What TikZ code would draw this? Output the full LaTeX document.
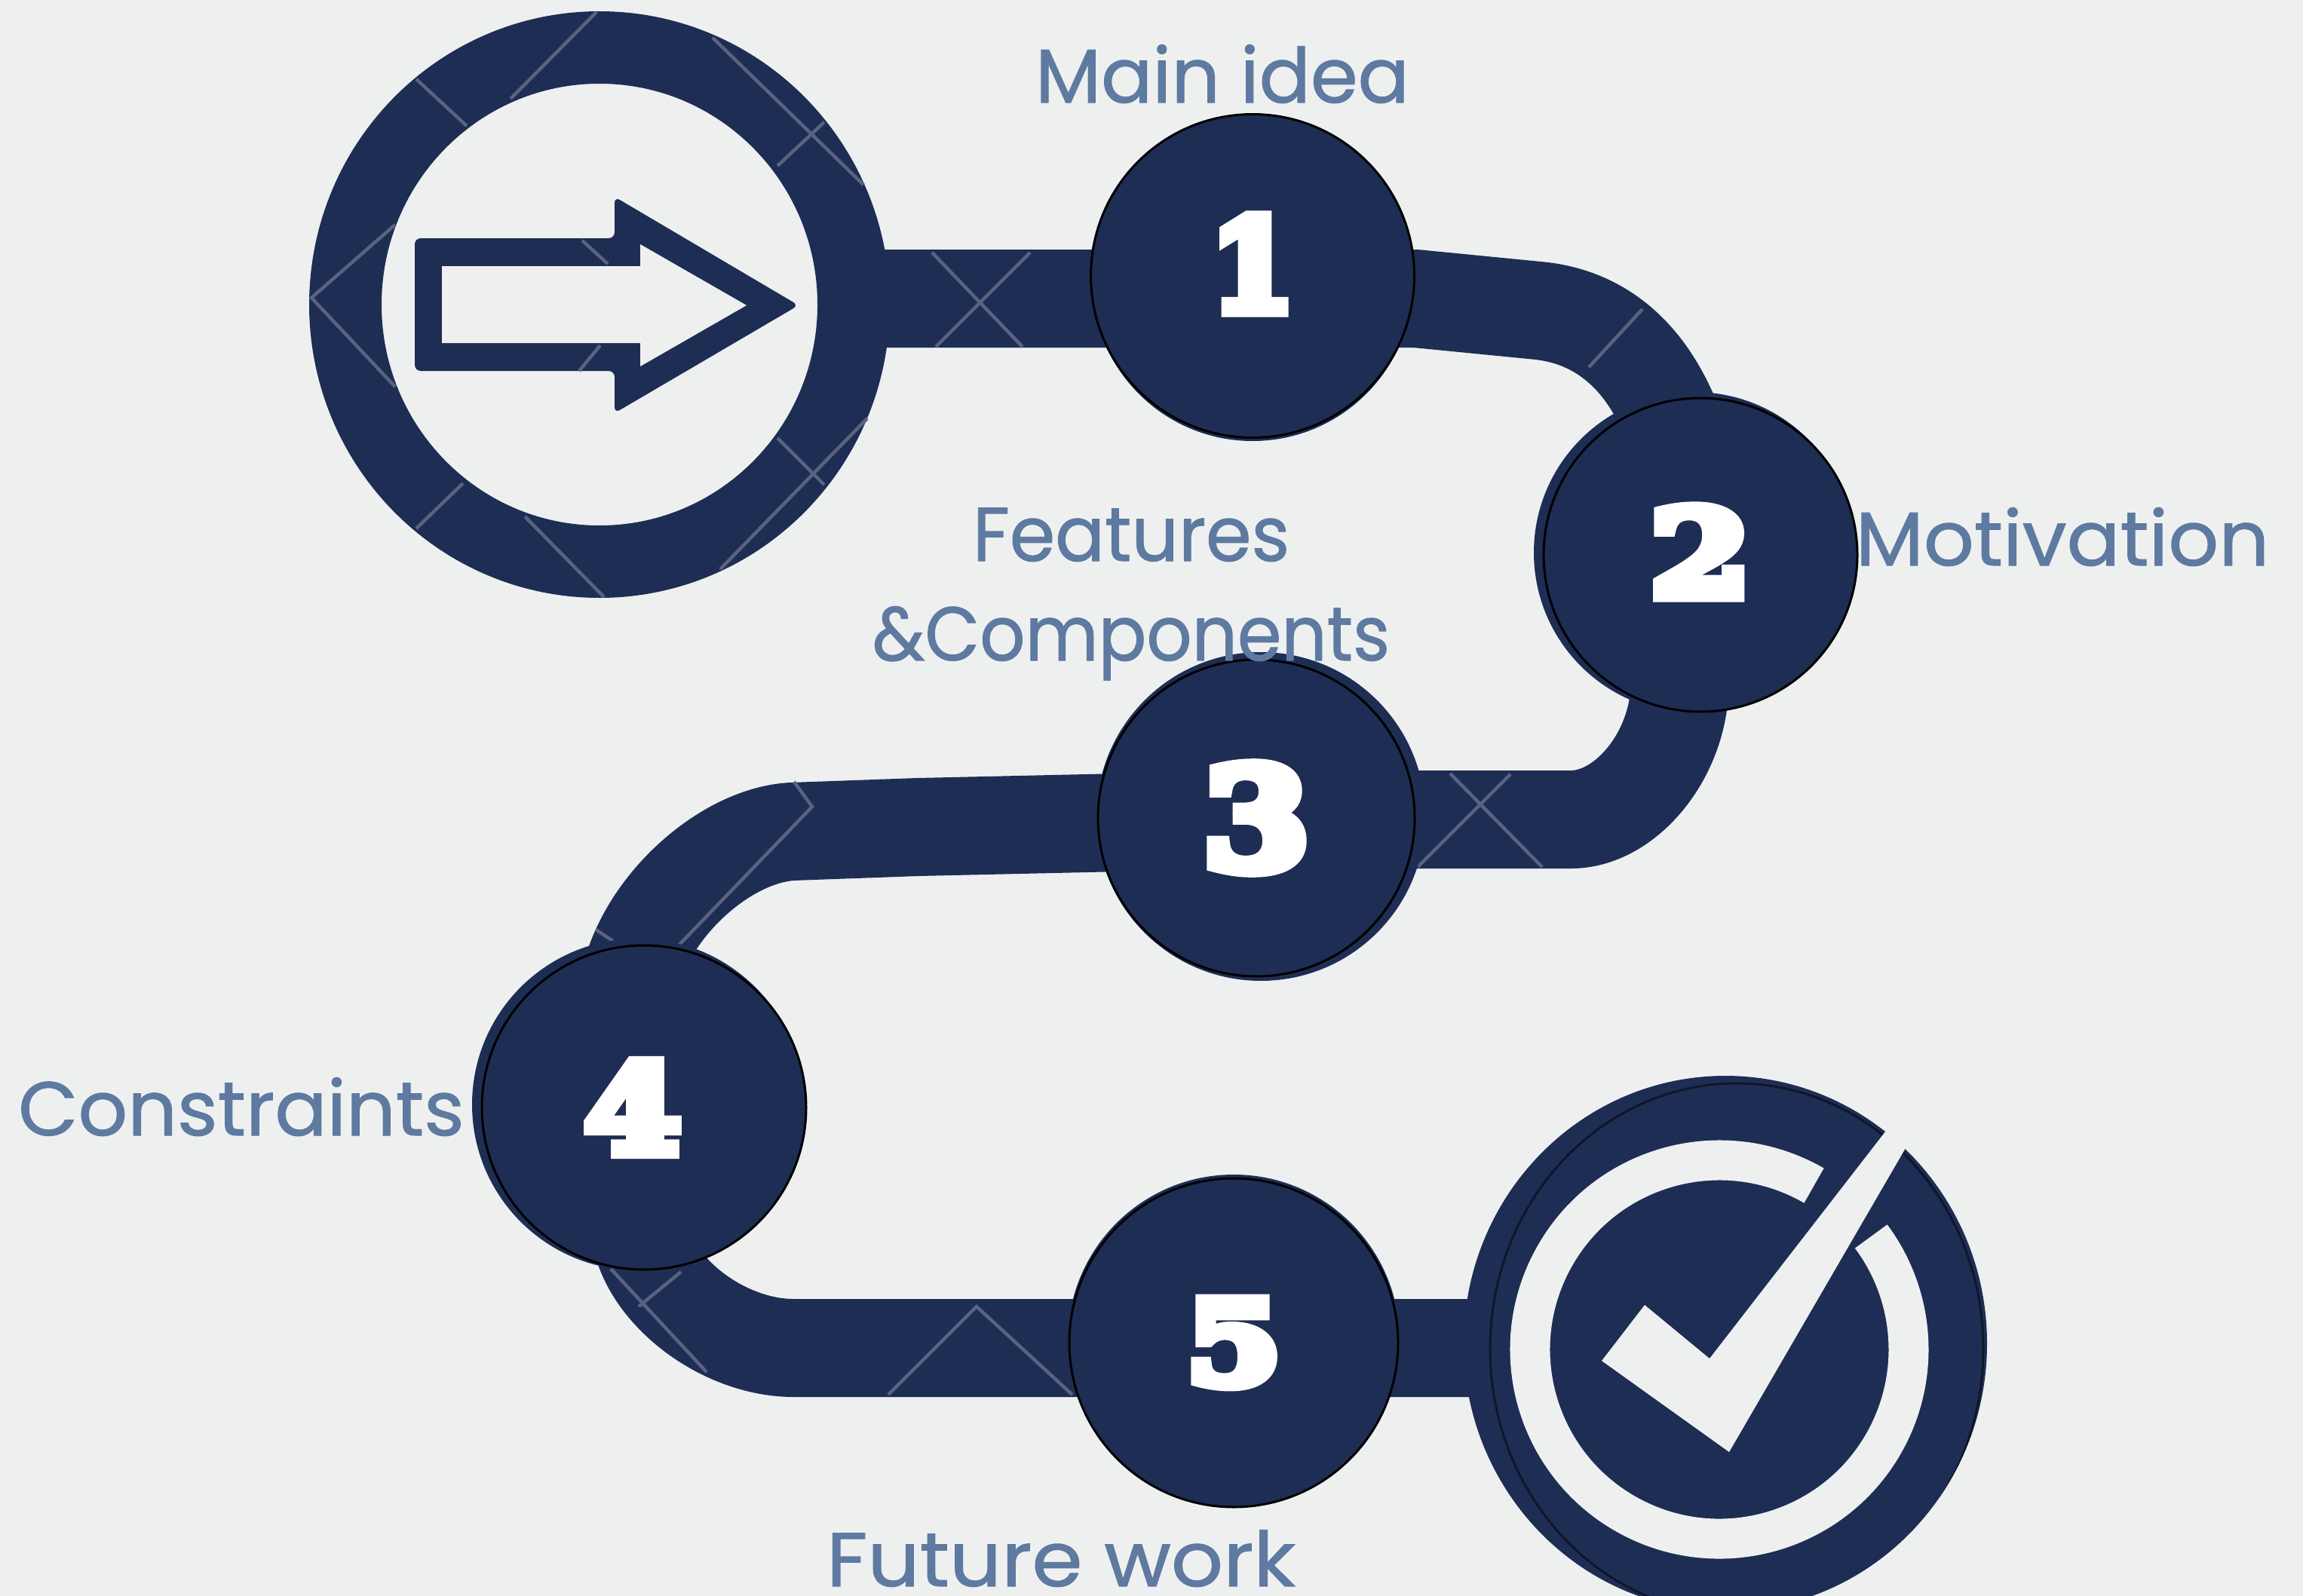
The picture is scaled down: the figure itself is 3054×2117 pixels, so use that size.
\documentclass[tikz,border=0pt]{standalone}
\usepackage{fontspec}
\usetikzlibrary{shapes.geometric}
\setmainfont{Poppins}[FakeBold=1]
\newfontfamily\numfont[FakeBold=10,FakeStretch=1.1]{DejaVu Serif Bold}
\definecolor{navy}{HTML}{1E2D54}
\definecolor{paper}{HTML}{EEF0F0}
\definecolor{label}{HTML}{5F7AA1}
\definecolor{seam}{HTML}{59637F}
\tikzset{
  road/.style={draw=navy,line width=130pt,line join=round},
  seamline/.style={draw=seam,line width=4.5pt},
  numdisc/.style={circle,draw=black,line width=3pt,fill=navy,text=white,inner sep=0pt,outer sep=0pt,font=\numfont\fontsize{184}{184}\selectfont},
  halo/.style={fill=navy},
  caption/.style={text=label,anchor=base,inner sep=0pt,font=\fontsize{101}{120}\selectfont},
  iconring/.style={ellipse,inner sep=0pt,outer sep=0pt}
}
\begin{document}
\begin{tikzpicture}[x=1pt,y=1pt]
\useasboundingbox (0,0) rectangle (3054,-2117);
\fill[paper] (0,0) rectangle (3054,-2117);

% named way points of the road
\coordinate (ca) at (795,-404);
\coordinate (cb) at (2288,-1782);
\coordinate (w0) at (1100,-396);
\coordinate (w1) at (1877,-396);
\coordinate (w2) at (2040,-412);
\coordinate (w3) at (2228,-590);
\coordinate (w4) at (2226,-930);
\coordinate (w5) at (2083,-1087);
\coordinate (w6) at (1217,-1097);
\coordinate (w7) at (1050,-1103);
\coordinate (w8) at (838,-1290);
\coordinate (w9) at (850,-1640);
\coordinate (w10) at (1053,-1788);

\draw[road] (ca) -- (w0) -- (w1) -- (w2)
  .. controls (2120,-420) and (2190,-470) .. (w3) -- (w4)
  .. controls (2215,-1015) and (2150,-1087) .. (w5) -- (1666,-1087) -- (w6) -- (w7)
  .. controls (965,-1108) and (865,-1195) .. (w8) -- (w9)
  .. controls (865,-1715) and (960,-1788) .. (w10) -- (cb |- w10);

% arrow icon
\node[iconring,draw=navy,fill=paper,line width=96pt,minimum width=674pt,minimum height=682pt] (ringA) at (ca) {};
\fill[navy,rounded corners=8pt] (550,-316) -- (815,-316) -- (815,-261) -- (1059,-405) -- (815,-548) -- (815,-492) -- (550,-492) -- cycle;
\fill[paper] (586,-353) -- (849,-353) -- (849,-324) -- (990,-405) -- (849,-486) -- (849,-455) -- (586,-455) -- cycle;

% check icon
\node[iconring,fill=navy,minimum width=694pt,minimum height=710pt] (ringB) at (cb) {};
\begin{scope}
  \clip (cb) ellipse [x radius=347,y radius=355];
  \draw[draw=black!50!navy,line width=3pt] (2303,-1789) ellipse [x radius=327,y radius=352];
\end{scope}
\draw[paper,line width=53pt] (2280,-1790) ++(60:251) arc[start angle=60,end angle=396.7,radius=251];
\fill[paper] (2181,-1731) -- (2267,-1802) -- (2590,-1385) -- (2618,-1366) -- (2293,-1926) -- (2124,-1805) -- cycle;

% seams in the artwork
\draw[seamline] (552,-105) -- (619,-167);
\draw[seamline] (791,-16) -- (677,-131);
\draw[seamline] (945,-50) -- (1145,-245);
\draw[seamline] (1031,-220) -- (1093,-162);
\draw[seamline] (524,-298) -- (413,-395) -- (524,-513);
\draw[seamline] (614,-641) -- (552,-701);
\draw[seamline] (696,-685) -- (801,-792);
\draw[seamline] (1150,-555) -- (955,-755);
\draw[seamline] (1031,-581) -- (1093,-643);
\draw[seamline] (772,-319) -- (806,-350);
\draw[seamline] (796,-458) -- (768,-492);
\draw[seamline] (1236,-335) -- (1356,-460);
\draw[seamline] (1366,-335) -- (1241,-460);
\draw[seamline] (2178,-410) -- (2107,-487);
\draw[seamline] (1923,-1026) -- (2045,-1150);
\draw[seamline] (2003,-1027) -- (1880,-1150);
\draw[seamline] (1053,-1037) -- (1077,-1070) -- (897,-1257);
\draw[seamline] (790,-1233) -- (820,-1253);
\draw[seamline] (903,-1687) -- (847,-1733);
\draw[seamline] (810,-1683) -- (937,-1820);
\draw[seamline] (1178,-1850) -- (1295,-1733) -- (1422,-1850);

% soft discs under the numbered circles
\fill[halo] (1661,-372) circle (213);
\fill[halo] (2247,-733) circle (213);
\fill[halo] (1672,-1083) circle (218);
\fill[halo] (846,-1465) circle (220);
\fill[halo] (1636,-1778) circle (220);

% numbered circles
\node[numdisc,minimum size=429pt] (n1) at (1661,-366) {\raisebox{32pt}{\scalebox{.8}[.91]{1}}};
\node[numdisc,minimum size=416pt] (n2) at (2255,-736) {\raisebox{8pt}{\scalebox{.95}[.86]{2}}};
\node[numdisc,minimum size=420pt] (n3) at (1666,-1085) {3};
\node[numdisc,minimum size=430pt] (n4) at (854,-1469) {\kern-30pt\raisebox{-20pt}{\scalebox{.91}[.88]{4}}};
\node[numdisc,minimum size=436pt] (n5) at (1636,-1781) {\raisebox{-8pt}{\scalebox{.9}[.83]{5}}};

% captions
\node[caption] (t1) at (1621,-136) {Main idea};
\node[caption] (t2) at (1500,-744) {\scalebox{.964}[1]{Features}};
\node[caption] (t3) at (1500,-876) {\scalebox{.933}[1]{\&Components}};
\node[caption] (t4) at (2735,-750) {\scalebox{1.037}[1]{Motivation}};
\node[caption] (t5) at (320,-1506) {\scalebox{1.017}[1]{Constraints}};
\node[caption] (t6) at (1407,-2104) {\scalebox{1.07}[1]{Future work}};
\end{tikzpicture}
\end{document}
